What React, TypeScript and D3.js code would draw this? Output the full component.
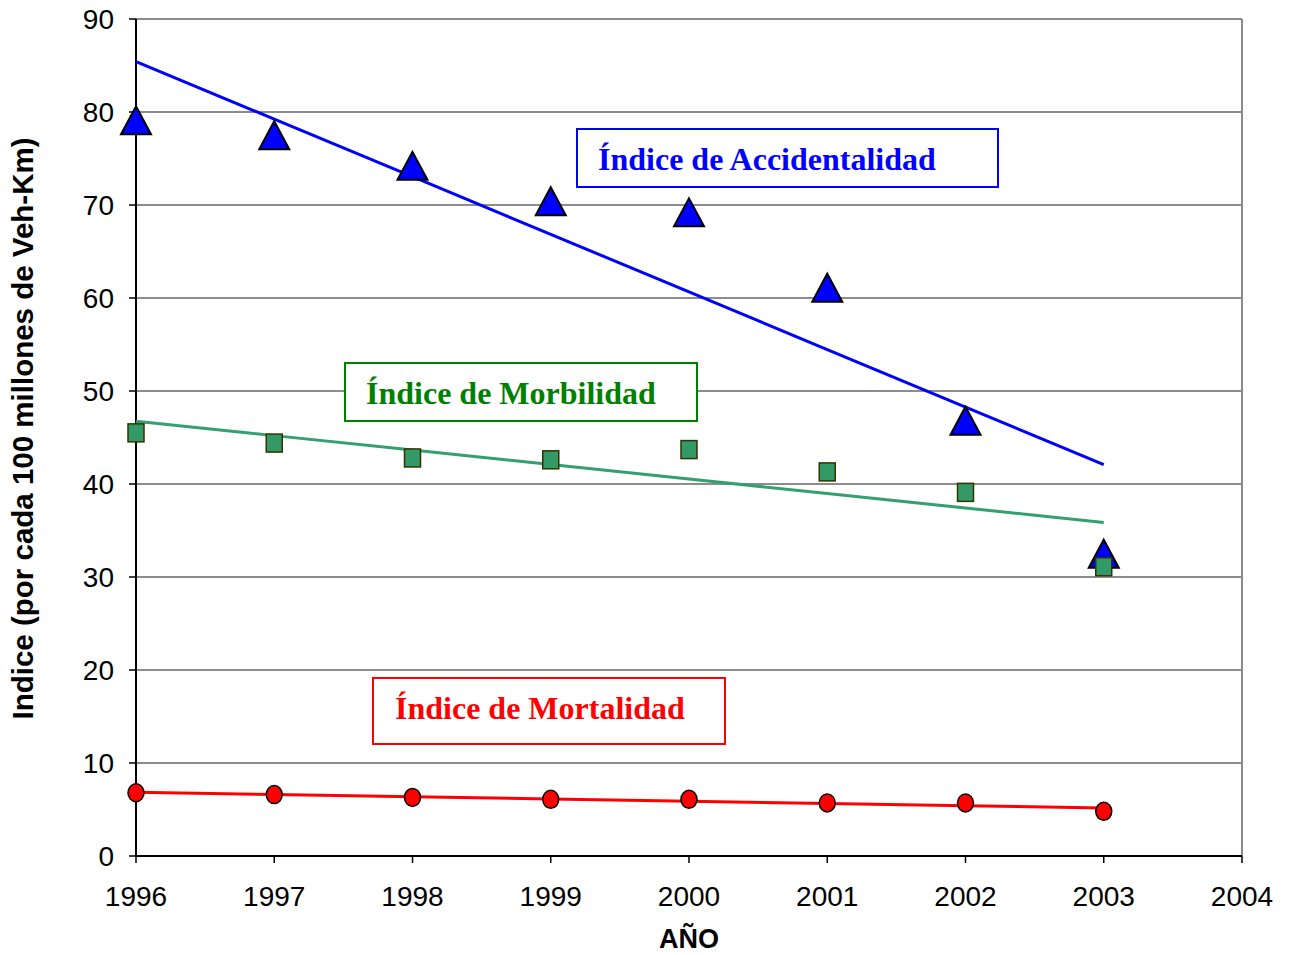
import React from "react";
import * as d3 from "d3";

const years = [1996, 1997, 1998, 1999, 2000, 2001, 2002, 2003];
const accidentalidad = [79.0, 77.4, 74.1, 70.3, 69.1, 61.0, 46.7, 32.4];
const morbilidad = [45.5, 44.4, 42.8, 42.6, 43.7, 41.3, 39.1, 31.1];
const mortalidad = [6.8, 6.6, 6.3, 6.1, 6.1, 5.7, 5.7, 4.8];
const xTicks = [1996, 1997, 1998, 1999, 2000, 2001, 2002, 2003, 2004];
const yTicks = [0, 10, 20, 30, 40, 50, 60, 70, 80, 90];

function fit(ys: number[]) {
  const n = ys.length;
  const mx = d3.mean(years)!;
  const my = d3.mean(ys)!;
  let sxy = 0, sxx = 0;
  for (let i = 0; i < n; i++) {
    sxy += (years[i] - mx) * (ys[i] - my);
    sxx += (years[i] - mx) ** 2;
  }
  const b = sxy / sxx;
  const a = my - b * mx;
  return years.map((x) => ({ x, y: a + b * x }));
}

export default function App() {
  const W = 1290, H = 955;
  const x = d3.scaleLinear().domain([1996, 2004]).range([136, 1242]);
  const y = d3.scaleLinear().domain([0, 90]).range([856, 19]);
  const line = d3.line<{ x: number; y: number }>().x((d) => x(d.x)).y((d) => y(d.y));
  const tri = (cx: number, cy: number) =>
    `M${cx},${cy - 15}L${cx + 15},${cy + 13}L${cx - 15},${cy + 13}Z`;
  const serif = "'Liberation Serif', 'Times New Roman', serif";
  const sans = "'Liberation Sans', Arial, sans-serif";

  return (
    <svg width={W} height={H} style={{ position: "absolute", left: 0, top: 0, background: "#fff" }}>
      {/* grid */}
      {yTicks.filter((t) => t > 0).map((t) => (
        <line key={t} x1={136} x2={1242} y1={y(t)} y2={y(t)} stroke="#8c8c8c" strokeWidth={2} />
      ))}
      <line x1={1242} x2={1242} y1={19} y2={856} stroke="#8c8c8c" strokeWidth={2} />
      {/* axes */}
      <line x1={136} x2={136} y1={19} y2={856} stroke="#000" strokeWidth={2} />
      <line x1={136} x2={1242} y1={856} y2={856} stroke="#000" strokeWidth={2} />
      {yTicks.map((t) => (
        <g key={t}>
          <line x1={129} x2={136} y1={y(t)} y2={y(t)} stroke="#000" strokeWidth={1.5} />
          <text x={114} y={y(t) + 10} textAnchor="end" fontFamily={sans} fontSize={28} fill="#000">{t}</text>
        </g>
      ))}
      {xTicks.map((t) => (
        <g key={t}>
          <line x1={x(t)} x2={x(t)} y1={856} y2={863} stroke="#000" strokeWidth={1.5} />
          <text x={x(t)} y={906} textAnchor="middle" fontFamily={sans} fontSize={28} fill="#000">{t}</text>
        </g>
      ))}
      <text x={689} y={948} textAnchor="middle" fontFamily={sans} fontWeight="bold" fontSize={27}>AÑO</text>
      <text transform="translate(33,428.5) rotate(-90)" textAnchor="middle" fontFamily={sans} fontWeight="bold" fontSize={29.5}>
        Indice (por cada 100 millones de Veh-Km)
      </text>

      {/* trend lines */}
      <path d={line(fit(accidentalidad))!} fill="none" stroke="#0000ff" strokeWidth={3} />
      <path d={line(fit(morbilidad))!} fill="none" stroke="#33a070" strokeWidth={3} />
      <path d={line(fit(mortalidad))!} fill="none" stroke="#ff0000" strokeWidth={3} />

      {/* markers */}
      {years.map((yr, i) => (
        <path key={"a" + yr} d={tri(x(yr), y(accidentalidad[i]))} fill="#0000ff" stroke="#000" strokeWidth={2} />
      ))}
      {years.map((yr, i) => (
        <rect key={"m" + yr} x={x(yr) - 8} y={y(morbilidad[i]) - 9} width={16} height={18} fill="#339966" stroke="#333300" strokeWidth={1.5} />
      ))}
      {years.map((yr, i) => (
        <ellipse key={"d" + yr} cx={x(yr)} cy={y(mortalidad[i])} rx={8} ry={9} fill="#ff0000" stroke="#000" strokeWidth={1.5} />
      ))}

      {/* labels */}
      <rect x={577} y={129} width={421} height={58} fill="#fff" stroke="#0000ff" strokeWidth={2} />
      <text x={598} y={170} fontFamily={serif} fontWeight="bold" fontSize={32} fill="#0000ff">Índice de Accidentalidad</text>
      <rect x={345} y={363} width={352} height={58} fill="#fff" stroke="#008000" strokeWidth={2} />
      <text x={366} y={404} fontFamily={serif} fontWeight="bold" fontSize={32} fill="#008000">Índice de Morbilidad</text>
      <rect x={373} y={678} width={352} height={66} fill="#fff" stroke="#ff0000" strokeWidth={2} />
      <text x={395} y={719} fontFamily={serif} fontWeight="bold" fontSize={32} fill="#ff0000">Índice de Mortalidad</text>
    </svg>
  );
}
